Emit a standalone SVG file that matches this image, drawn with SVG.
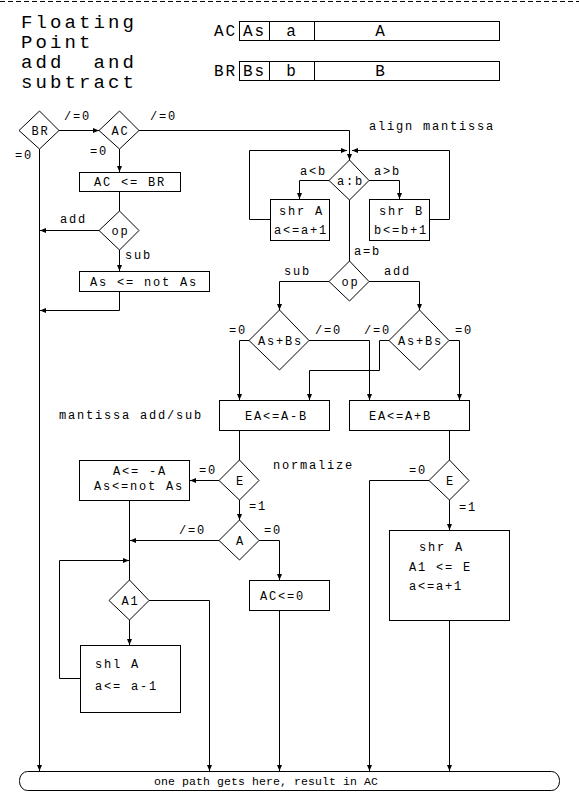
<svg xmlns="http://www.w3.org/2000/svg" width="579" height="800" viewBox="0 0 579 800">
<style>
.ln{stroke:#000;stroke-width:1;fill:none}
.bx{fill:#fff;stroke:#000;stroke-width:1}
.t{font-family:"Liberation Mono","DejaVu Sans Mono",monospace;font-size:12px;letter-spacing:1.8px;fill:#000}
.ttl{font-size:19px;letter-spacing:3.1px}
.rg{font-size:16px;letter-spacing:2px}
.c{text-anchor:middle;letter-spacing:0}
.m{text-anchor:middle}
.sm{font-size:11.5px;letter-spacing:0.1px}
</style>
<defs>
<marker id="ar" viewBox="0 0 6 6" refX="6" refY="3" markerWidth="6" markerHeight="6" markerUnits="userSpaceOnUse" orient="auto">
<path d="M0,0.5 L6,3 L0,5.5 z" fill="#000"/>
</marker>
</defs>
<rect width="579" height="800" fill="#fff"/>
<line x1="0" y1="1.5" x2="579" y2="1.5" class="ln" stroke-dasharray="5 3"/>

<g id="title">
<text class="t ttl" x="21" y="28">Floating</text>
<text class="t ttl" x="21" y="48">Point</text>
<text class="t ttl" x="21" y="68" xml:space="preserve">add  and</text>
<text class="t ttl" x="21" y="88">subtract</text>
</g>

<g id="reg-ac">
<text class="t rg" x="214" y="36">AC</text>
<rect class="bx" x="239.5" y="21.5" width="260" height="19"/>
<line class="ln" x1="269.5" y1="21.5" x2="269.5" y2="40.5"/>
<line class="ln" x1="314.5" y1="21.5" x2="314.5" y2="40.5"/>
<text class="t rg" x="243" y="36">As</text>
<text class="t rg c" x="291" y="36">a</text>
<text class="t rg c" x="380" y="36">A</text>
</g>
<g id="reg-br">
<text class="t rg" x="214" y="76">BR</text>
<rect class="bx" x="239.5" y="61.5" width="260" height="19"/>
<line class="ln" x1="269.5" y1="61.5" x2="269.5" y2="80.5"/>
<line class="ln" x1="314.5" y1="61.5" x2="314.5" y2="80.5"/>
<text class="t rg" x="243" y="76">Bs</text>
<text class="t rg c" x="291" y="76">b</text>
<text class="t rg c" x="380" y="76">B</text>
</g>

<g id="connectors" class="ln">
<path d="M59,130.5 H99" marker-end="url(#ar)"/>
<path d="M39.5,149 V771" marker-end="url(#ar)"/>
<path d="M139,130.5 H349.5 V160" marker-end="url(#ar)"/>
<path d="M119.5,149 V172" marker-end="url(#ar)"/>
<path d="M119.5,191 V211"/>
<path d="M99,230.5 H40" marker-end="url(#ar)"/>
<path d="M119.5,250 V271" marker-end="url(#ar)"/>
<path d="M119.5,291 V310.5 H40" marker-end="url(#ar)"/>
<path d="M270,219.5 H249.5 V150.5 H347" marker-end="url(#ar)"/>
<path d="M429,219.5 H449.5 V150.5 H352" marker-end="url(#ar)"/>
<path d="M329,180.5 H299.5 V199" marker-end="url(#ar)"/>
<path d="M369,180.5 H399.5 V199" marker-end="url(#ar)"/>
<path d="M349.5,200 V261"/>
<path d="M329,281.5 H279.5 V310" marker-end="url(#ar)"/>
<path d="M369,281.5 H419.5 V310" marker-end="url(#ar)"/>
<path d="M249,340.5 H239.5 V400" marker-end="url(#ar)"/>
<path d="M309,340.5 H369.5 V400" marker-end="url(#ar)"/>
<path d="M389,340.5 H379.5 V370.5 H309.5 V400" marker-end="url(#ar)"/>
<path d="M449,340.5 H459.5 V400" marker-end="url(#ar)"/>
<path d="M239.5,430 V460"/>
<path d="M219,480.5 H190" marker-end="url(#ar)"/>
<path d="M239.5,500 V520" marker-end="url(#ar)"/>
<path d="M219,540.5 H130" marker-end="url(#ar)"/>
<path d="M259,540.5 H279.5 V580" marker-end="url(#ar)"/>
<path d="M279.5,610 V771" marker-end="url(#ar)"/>
<path d="M129.5,500 V580"/>
<path d="M80,678.5 H59.5 V560.5 H129" marker-end="url(#ar)"/>
<path d="M129.5,620 V645" marker-end="url(#ar)"/>
<path d="M149,600.5 H209.5 V771" marker-end="url(#ar)"/>
<path d="M449.5,430 V460"/>
<path d="M429,480.5 H369.5 V771" marker-end="url(#ar)"/>
<path d="M449.5,500 V530" marker-end="url(#ar)"/>
<path d="M449.5,620 V771" marker-end="url(#ar)"/>
</g>

<g id="labels">
<text class="t" x="64" y="120">/=0</text>
<text class="t" x="150" y="120">/=0</text>
<text class="t" x="15" y="159">=0</text>
<text class="t" x="90" y="155">=0</text>
<text class="t" x="60" y="223">add</text>
<text class="t" x="125" y="259">sub</text>
<text class="t" x="369" y="130">align mantissa</text>
<text class="t" x="300" y="175">a&lt;b</text>
<text class="t" x="374" y="175">a&gt;b</text>
<text class="t" x="354" y="255">a=b</text>
<text class="t" x="284" y="275">sub</text>
<text class="t" x="384" y="275">add</text>
<text class="t" x="229" y="334">=0</text>
<text class="t" x="315" y="334">/=0</text>
<text class="t" x="364" y="334">/=0</text>
<text class="t" x="455" y="334">=0</text>
<text class="t" x="59" y="419">mantissa add/sub</text>
<text class="t" x="273" y="469">normalize</text>
<text class="t" x="199" y="474">=0</text>
<text class="t" x="249" y="510">=1</text>
<text class="t" x="179" y="534">/=0</text>
<text class="t" x="264" y="534">=0</text>
<text class="t" x="409" y="474">=0</text>
<text class="t" x="459" y="511">=1</text>
</g>

<g id="n-br"><path class="bx" d="M19,130.5 L39.5,111 L59,130.5 L39.5,149 Z"/><text class="t m" x="40.4" y="135">BR</text></g>
<g id="n-ac"><path class="bx" d="M99,130.5 L119.5,111 L139,130.5 L119.5,149 Z"/><text class="t m" x="120.4" y="135">AC</text></g>
<g id="n-acbr"><rect class="bx" x="79.5" y="172.5" width="101" height="19"/><text class="t" x="94" y="186">AC &lt;= BR</text></g>
<g id="n-op1"><path class="bx" d="M99,230.5 L119.5,211 L139,230.5 L119.5,250 Z"/><text class="t m" x="120.4" y="235">op</text></g>
<g id="n-asnot"><rect class="bx" x="79.5" y="271.5" width="130" height="20"/><text class="t" x="90" y="286">As &lt;= not As</text></g>

<g id="n-ab"><path class="bx" d="M329,180.5 L349.5,160 L369,180.5 L349.5,200 Z"/><text class="t m" x="350.4" y="185">a:b</text></g>
<g id="n-shra"><rect class="bx" x="270.5" y="199.5" width="59" height="41"/><text class="t" x="279" y="215">shr A</text><text class="t" x="274" y="234">a&lt;=a+1</text></g>
<g id="n-shrb"><rect class="bx" x="369.5" y="199.5" width="60" height="41"/><text class="t" x="379" y="215">shr B</text><text class="t" x="374" y="234">b&lt;=b+1</text></g>
<g id="n-op2"><path class="bx" d="M329,281.5 L349.5,261 L369,281.5 L349.5,301 Z"/><text class="t m" x="350.4" y="286">op</text></g>
<g id="n-asbs1"><path class="bx" d="M249,340.5 L279.5,310 L309,340.5 L279.5,370 Z"/><text class="t m" x="280.4" y="345">As+Bs</text></g>
<g id="n-asbs2"><path class="bx" d="M389,340.5 L419.5,310 L449,340.5 L419.5,370 Z"/><text class="t m" x="420.4" y="345">As+Bs</text></g>
<g id="n-sub"><rect class="bx" x="219.5" y="400.5" width="110" height="30"/><text class="t" x="245" y="420">EA&lt;=A-B</text></g>
<g id="n-add"><rect class="bx" x="349.5" y="400.5" width="120" height="30"/><text class="t" x="369" y="420">EA&lt;=A+B</text></g>

<g id="n-e1"><path class="bx" d="M219,480.5 L239.5,460 L259,480.5 L239.5,500 Z"/><text class="t c" x="239.5" y="485">E</text></g>
<g id="n-neg"><rect class="bx" x="79.5" y="460.5" width="110" height="40"/><text class="t" x="113" y="475">A&lt;= -A</text><text class="t" x="94" y="490">As&lt;=not As</text></g>
<g id="n-a"><path class="bx" d="M219,540.5 L239.5,520 L259,540.5 L239.5,560 Z"/><text class="t c" x="239.5" y="545">A</text></g>
<g id="n-ac0"><rect class="bx" x="249.5" y="580.5" width="80" height="30"/><text class="t" x="260" y="600">AC&lt;=0</text></g>
<g id="n-a1"><path class="bx" d="M109,600.5 L129.5,580 L149,600.5 L129.5,620 Z"/><text class="t m" x="130.4" y="605">A1</text></g>
<g id="n-shl"><rect class="bx" x="80.5" y="645.5" width="100" height="67"/><text class="t" x="95" y="668">shl A</text><text class="t" x="95" y="690">a&lt;= a-1</text></g>

<g id="n-e2"><path class="bx" d="M429,480.5 L449.5,460 L469,480.5 L449.5,500 Z"/><text class="t c" x="449.5" y="485">E</text></g>
<g id="n-shr2"><rect class="bx" x="389.5" y="530.5" width="120" height="90"/><text class="t" x="419" y="551">shr A</text><text class="t" x="409" y="571">A1 &lt;= E</text><text class="t" x="409" y="590">a&lt;=a+1</text></g>

<g id="n-end"><rect class="bx" x="19.5" y="771.5" width="540" height="19" rx="8" ry="9"/><text class="t sm" x="154" y="785">one path gets here, result in AC</text></g>
</svg>
